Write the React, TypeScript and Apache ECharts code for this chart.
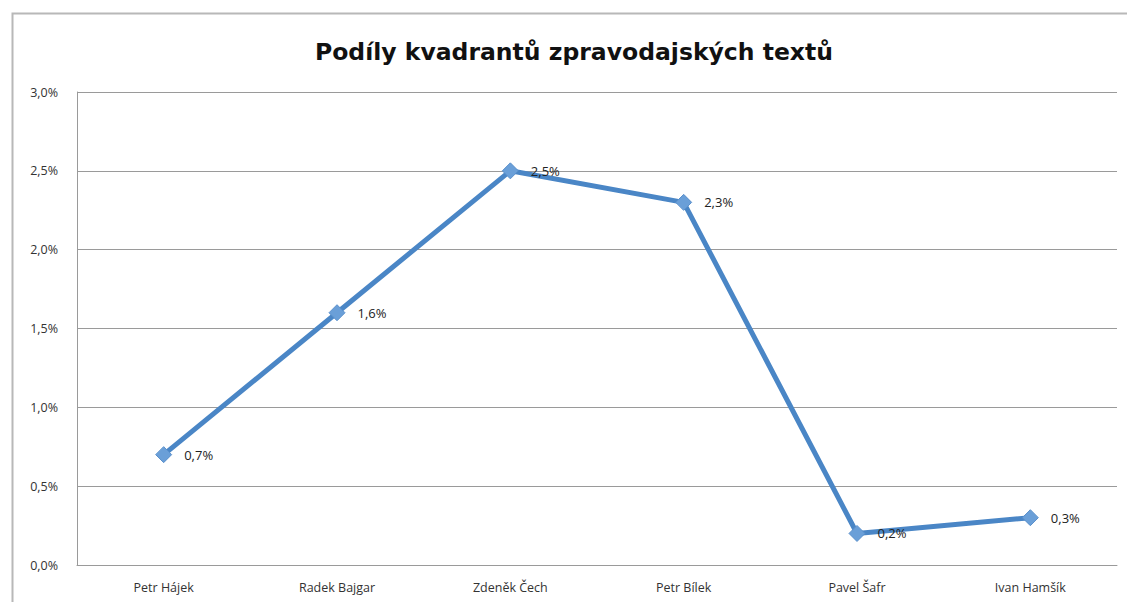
import React, { useEffect, useRef } from "react";
import * as echarts from "echarts";

const titleText = "Podíly kvadrantů zpravodajských textů";
const categories = ["Petr Hájek", "Radek Bajgar", "Zdeněk Čech", "Petr Bílek", "Pavel Šafr", "Ivan Hamšík"];
const values = [0.7, 1.6, 2.5, 2.3, 0.2, 0.3];
const yMin = 0;
const yMax = 3.0;
const yStep = 0.5;

const fmt = (v: number) => v.toFixed(1).replace(".", ",") + "%";

export default function App() {
  const ref = useRef<HTMLDivElement>(null);
  useEffect(() => {
    if (!ref.current) return;
    const chart = echarts.init(ref.current, null, { renderer: "svg" });
    chart.setOption({
      animation: false,
      backgroundColor: "#ffffff",
      textStyle: { fontFamily: "Open Sans" },
      title: {
        text: titleText,
        left: 310,
        top: 35,
        textStyle: { fontFamily: "DejaVu Sans", fontWeight: "bold", fontSize: 23.5, color: "#111" },
      },
      graphic: [
        {
          type: "rect",
          shape: { x: 12.5, y: 13.5, width: 1300, height: 700 },
          style: { fill: "none", stroke: "#b8b8b8", lineWidth: 2 },
          silent: true,
        },
      ],
      grid: { left: 77, right: 10, top: 92, bottom: 37, containLabel: false },
      xAxis: {
        type: "category",
        data: categories,
        boundaryGap: true,
        axisLine: { show: true, lineStyle: { color: "#9a9a9a", width: 1 } },
        axisTick: { show: false },
        axisLabel: { color: "#333", fontSize: 12.5, margin: 16, fontFamily: "Open Sans" },
      },
      yAxis: {
        type: "value",
        min: yMin,
        max: yMax,
        interval: yStep,
        axisLine: { show: true, lineStyle: { color: "#9a9a9a", width: 1 } },
        axisTick: { show: false },
        splitLine: { show: true, lineStyle: { color: "#9a9a9a", width: 1 } },
        axisLabel: { color: "#333", fontSize: 12.5, margin: 19, formatter: (v: number) => fmt(v), fontFamily: "Open Sans" },
      },
      series: [
        {
          type: "line",
          data: values,
          symbol: "diamond",
          symbolSize: 16,
          lineStyle: { color: "#4a86c6", width: 5 },
          itemStyle: { color: "#6a9fd8", borderColor: "#5a90cc", borderWidth: 1 },
          label: {
            show: true,
            position: "right",
            distance: 12,
            color: "#222",
            fontSize: 13,
            fontFamily: "Open Sans",
            formatter: (p: any) => fmt(p.value),
          },
        },
      ],
    });
    return () => chart.dispose();
  }, []);
  return (
    <div
      ref={ref}
      style={{ position: "fixed", left: 0, top: 0, width: 1127, height: 602 }}
    />
  );
}
